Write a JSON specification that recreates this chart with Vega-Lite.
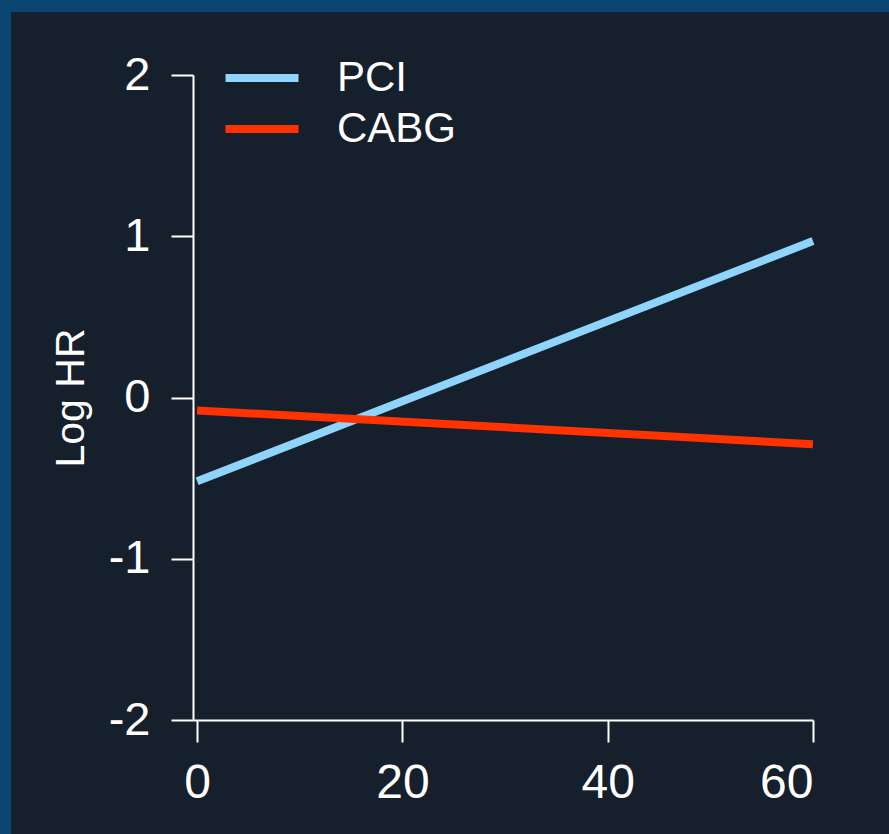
{
  "$schema": "https://vega.github.io/schema/vega-lite/v6.json",
  "width": 878,
  "height": 822,
  "autosize": "none",
  "padding": {"left": 11, "top": 12, "right": 0, "bottom": 0},
  "background": "#0a4470",
  "config": {
    "view": {"fill": "#161f2c", "stroke": null},
    "font": "Liberation Sans"
  },
  "data": {
    "values": [
      {"month": 0, "loghr": -0.52, "group": "PCI"},
      {"month": 60, "loghr": 0.97, "group": "PCI"},
      {"month": 0, "loghr": -0.08, "group": "CABG"},
      {"month": 60, "loghr": -0.29, "group": "CABG"}
    ]
  },
  "mark": {"type": "line", "strokeWidth": 8, "strokeCap": "butt"},
  "encoding": {
    "x": {
      "field": "month",
      "type": "quantitative",
      "scale": {"domain": [-0.4, 60], "range": [182, 802], "nice": false, "zero": false},
      "axis": {
        "values": [0, 20, 40, 60],
        "offset": -114,
        "title": null,
        "grid": false,
        "domainColor": "#ffffff",
        "domainWidth": 2,
        "tickColor": "#ffffff",
        "tickWidth": 2,
        "tickSize": 22,
        "labelColor": "#ffffff",
        "labelFontSize": 48,
        "labelPadding": 17,
        "labelExpr": "datum.value + ''"
      }
    },
    "y": {
      "field": "loghr",
      "type": "quantitative",
      "scale": {"domain": [-2, 2], "range": [708, 63], "nice": false, "zero": false},
      "axis": {
        "values": [-2, -1, 0, 1, 2],
        "offset": -182,
        "title": "Log HR",
        "titleColor": "#ffffff",
        "titleFontSize": 41,
        "titleFontWeight": "normal",
        "titlePadding": 16,
        "grid": false,
        "domainColor": "#ffffff",
        "domainWidth": 2,
        "tickColor": "#ffffff",
        "tickWidth": 2,
        "tickSize": 22,
        "labelColor": "#ffffff",
        "labelFontSize": 47,
        "labelPadding": 21,
        "labelExpr": "datum.value + ''"
      }
    },
    "color": {
      "field": "group",
      "type": "nominal",
      "scale": {"domain": ["PCI", "CABG"], "range": ["#8fd4fb", "#ff3300"]},
      "legend": {
        "orient": "none",
        "legendX": 227,
        "legendY": 42,
        "title": null,
        "padding": 0,
        "symbolType": "M-1.825,0H1.825",
        "symbolSize": 1600,
        "symbolStrokeWidth": 8,
        "symbolFillColor": "transparent",
        "labelFontSize": 42,
        "labelColor": "#ffffff",
        "labelOffset": 51,
        "rowPadding": 6,
        "labelLimit": 400
      }
    }
  }
}
